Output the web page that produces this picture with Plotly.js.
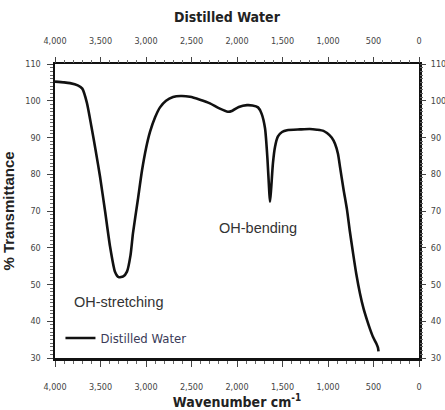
<!DOCTYPE html>
<html>
<head>
<meta charset="utf-8">
<script src="https://cdn.plot.ly/plotly-3.0.1.min.js"></script>
<style>html,body{margin:0;padding:0;background:#fff;}#chart{width:445px;height:410px;}</style>
</head>
<body>
<div id="chart"></div>
<script>
const seriesName = "Distilled Water";
const wavenumber = [4000, 3900, 3835, 3750, 3700, 3650, 3600, 3550, 3505, 3450, 3396, 3341, 3300, 3250, 3209, 3170, 3143, 3090, 3044, 3000, 2956, 2900, 2846, 2780, 2703, 2620, 2517, 2407, 2297, 2200, 2100, 2050, 1980, 1890, 1830, 1769, 1730, 1692, 1665, 1645, 1637, 1625, 1605, 1582, 1550, 1505, 1450, 1308, 1200, 1121, 1050, 1011, 960, 923, 890, 868, 830, 791, 760, 725, 690, 648, 610, 571, 540, 505, 470, 451, 445];
const transmittance = [105.2, 105.0, 104.8, 104.2, 103.3, 99.5, 93, 86, 79.3, 70, 60.5, 53.5, 52, 52.2, 53.5, 58, 64, 73, 81, 87, 91.5, 95.5, 98.2, 100, 101, 101.3, 101.1, 100.3, 99.3, 98, 97, 97.3, 98.3, 98.8, 98.7, 98.2, 96.5, 92.5, 84, 75, 72.5, 76, 83, 87.5, 90.3, 91.5, 92, 92.2, 92.3, 92.1, 91.8, 91.2, 90, 88.3, 85.5, 82, 76, 70.3, 64.5, 58.6, 53, 47.5, 43.5, 40.3, 38, 35.7, 34, 32.8, 31.8];
const xTickVals = [4000, 3500, 3000, 2500, 2000, 1500, 1000, 500, 0];
const xTickText = ["4,000", "3,500", "3,000", "2,500", "2,000", "1,500", "1,000", "500", "0"];
const yTickVals = [30, 40, 50, 60, 70, 80, 90, 100, 110];
const annotationsData = [
  {x: 1769, y: 65.4, text: "OH-bending"},
  {x: 3300, y: 45.2, text: "OH-stretching"}
];

const tickFont = {family: "DejaVu Sans Condensed, sans-serif", size: 9, color: "#444"};
const xCommon = {
  range: [4000, 0], tickmode: "array", tickvals: xTickVals, ticktext: xTickText,
  ticks: "outside", ticklen: 6, tickwidth: 1, tickcolor: "#444",
  minor: {dtick: 100, ticks: "outside", ticklen: 3, tickcolor: "#666", showgrid: false},
  showgrid: false, zeroline: false, tickfont: tickFont
};
const yCommon = {
  range: [30, 110], tickmode: "array", tickvals: yTickVals,
  ticks: "outside", ticklen: 6, tickwidth: 1, tickcolor: "#444",
  minor: {dtick: 1, ticks: "outside", ticklen: 3, tickcolor: "#666", showgrid: false},
  showgrid: false, zeroline: false, tickfont: tickFont
};

const traces = [
  {x: wavenumber, y: transmittance, type: "scatter", mode: "lines", name: seriesName,
   line: {color: "#111", width: 2.6, shape: "spline", smoothing: 0.6}},
  {x: [null], y: [null], xaxis: "x2", yaxis: "y2", showlegend: false, hoverinfo: "skip"}
];

const layout = {
  width: 445, height: 410,
  margin: {l: 55, r: 26, t: 64, b: 52},
  paper_bgcolor: "#fff", plot_bgcolor: "#fff",
  title: {text: "<b>Distilled Water</b>", x: 0.51, xanchor: "center", y: 0.958, yanchor: "middle",
          font: {family: "DejaVu Sans Condensed, sans-serif", size: 14, color: "#222"}},
  xaxis: Object.assign({}, xCommon, {
    title: {text: "<b>Wavenumber cm<sup>-1</sup></b>", standoff: 2,
            font: {family: "DejaVu Sans Condensed, sans-serif", size: 14, color: "#222"}},
    ticklabelstandoff: 13,
    showline: true, linecolor: "#111", linewidth: 2.5, mirror: true
  }),
  xaxis2: Object.assign({}, xCommon, {overlaying: "x", side: "top", anchor: "y", ticklabelstandoff: 9}),
  yaxis: Object.assign({}, yCommon, {
    title: {text: "<b>% Transmittance</b>", standoff: 8,
            font: {family: "Liberation Sans, Arial, sans-serif", size: 15, color: "#222"}},
    ticklabelstandoff: 4,
    showline: true, linecolor: "#111", linewidth: 2.5, mirror: true
  }),
  yaxis2: Object.assign({}, yCommon, {overlaying: "y", side: "right", anchor: "x", ticklabelstandoff: 3}),
  showlegend: true,
  legend: {x: 0.015, y: 0.068, xanchor: "left", yanchor: "middle", bgcolor: "rgba(0,0,0,0)",
           itemwidth: 30, font: {family: "Liberation Sans Narrow, DejaVu Sans Condensed, sans-serif", size: 13, color: "#3a3a58"}},
  annotations: annotationsData.map(a => ({x: a.x, y: a.y, xref: "x", yref: "y", text: a.text,
    showarrow: false, xanchor: "center", yanchor: "middle",
    font: {family: "Liberation Sans, Arial, sans-serif", size: 14.5, color: "#333"}}))
};

Plotly.newPlot("chart", traces, layout, {displayModeBar: false, staticPlot: true});
</script>
</body>
</html>
